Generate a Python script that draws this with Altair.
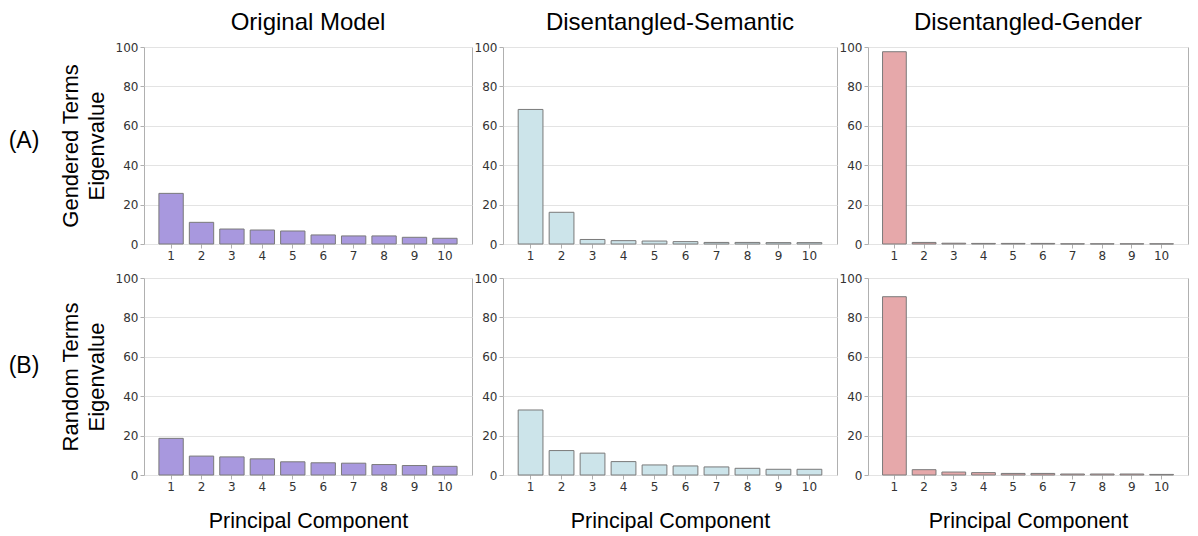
import altair as alt
import pandas as pd

components = [str(i) for i in range(1, 11)]
models = ["Original Model", "Disentangled-Semantic", "Disentangled-Gender"]
row_titles = [["Gendered Terms", "Eigenvalue"], ["Random Terms", "Eigenvalue"]]
row_labels = ["(A)", "(B)"]
y_ticks = [0, 20, 40, 60, 80, 100]

gendered_original = [25.7, 11.0, 7.6, 7.1, 6.6, 4.6, 4.1, 4.1, 3.4, 2.9]
gendered_semantic = [68.3, 16.1, 2.3, 1.7, 1.5, 1.2, 0.8, 0.8, 0.7, 0.7]
gendered_gender = [97.6, 0.8, 0.4, 0.3, 0.3, 0.3, 0.1, 0.1, 0.1, 0.1]
random_original = [18.6, 9.6, 9.2, 8.2, 6.7, 6.2, 6.0, 5.3, 4.8, 4.4]
random_semantic = [33.0, 12.4, 11.1, 6.8, 5.1, 4.6, 4.1, 3.4, 2.9, 2.9]
random_gender = [90.5, 2.7, 1.5, 1.2, 0.8, 0.8, 0.5, 0.5, 0.5, 0.3]

series = [
    [gendered_original, gendered_semantic, gendered_gender],
    [random_original, random_semantic, random_gender],
]
colors = ["#a898de", "#cce4ea", "#e6a8aa"]
widths = [328, 334, 320]
label_y = [94, 88]


def panel(values, col, row):
    df = pd.DataFrame({"pc": components, "eig": values})
    xkw = dict(labelAngle=0, ticks=True, grid=False)
    if row == 1:
        xkw.update(title="Principal Component", titlePadding=18, titleFontSize=21.5)
    else:
        xkw.update(title=None)
    ykw = dict(values=y_ticks, grid=True)
    if col == 0:
        ykw.update(title=row_titles[row], titlePadding=7, titleFontSize=22, titleLineHeight=26)
    else:
        ykw.update(title=None)
    bars = alt.Chart(df).mark_bar(
        color=colors[col], stroke="#7a7a7a", strokeWidth=1
    ).encode(
        x=alt.X("pc:N", sort=components,
                scale=alt.Scale(paddingInner=0.2, paddingOuter=0.49),
                axis=alt.Axis(**xkw)),
        y=alt.Y("eig:Q", scale=alt.Scale(domain=[0, 100], nice=False),
                axis=alt.Axis(**ykw)),
    )
    layers = [bars]
    if col == 0:
        lab = alt.Chart(pd.DataFrame({"t": [row_labels[row]]})).mark_text(
            fontSize=23, font="Liberation Sans", color="black"
        ).encode(text="t:N", x=alt.value(-120), y=alt.value(label_y[row]))
        layers.append(lab)
    ch = alt.layer(*layers).properties(width=widths[col], height=197)
    if row == 0:
        ch = ch.properties(title=alt.TitleParams(
            models[col], fontSize=24, font="Liberation Sans", fontWeight="normal",
            color="black", offset=6))
    return ch


panels = [panel(series[r][c], c, r) for r in range(2) for c in range(3)]

chart = alt.concat(
    *panels, columns=3, spacing={"row": 34, "column": 31}, bounds="flush", align="each"
).properties(
    padding={"top": 2, "left": 0, "right": 0, "bottom": 0}
).configure_view(
    stroke="#b0b0b0", strokeWidth=1
).configure_axis(
    domain=False,
    tickColor="#b0b0b0",
    tickSize=4,
    gridColor="#e3e3e3",
    labelFont="DejaVu Sans",
    labelFontSize=12,
    labelColor="#333333",
    labelPadding=2,
    titleFont="Liberation Sans",
    titleFontWeight="normal",
    titleColor="black",
)

chart.save("out.html", embed_options={"renderer": "svg", "actions": False})
